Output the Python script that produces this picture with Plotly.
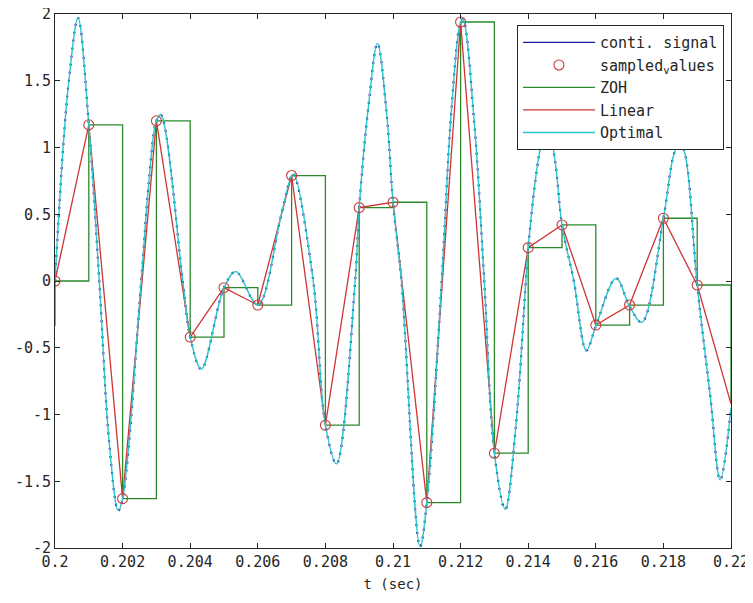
import plotly.graph_objects as go

# sampled values (sampling period 1 ms); first/last points lie just outside / on the axis edge
sample_t = [0.199, 0.200, 0.201, 0.202, 0.203, 0.204, 0.205, 0.206, 0.207, 0.208, 0.209,
            0.210, 0.211, 0.212, 0.213, 0.214, 0.215, 0.216, 0.217, 0.218, 0.219, 0.220]
sample_v = [-0.33, 0.00, 1.17, -1.63, 1.20, -0.42, -0.05, -0.18, 0.79, -1.08, 0.55,
            0.59, -1.66, 1.94, -1.29, 0.25, 0.42, -0.33, -0.18, 0.47, -0.03, -0.92]

# continuous signal (the optimal reconstruction coincides with it)
signal_t = [0.20000, 0.20024, 0.20041, 0.20068, 0.20100, 0.20131, 0.20160, 0.20187, 0.20200,
            0.20255, 0.20278, 0.20300, 0.20313, 0.20378, 0.20400, 0.20433, 0.20500, 0.20535,
            0.20600, 0.20668, 0.20700, 0.20706, 0.20764, 0.20800, 0.20833, 0.20888, 0.20900,
            0.20927, 0.20954, 0.20981, 0.21000, 0.21025, 0.21080, 0.21100, 0.21144, 0.21172,
            0.21200, 0.21207, 0.21240, 0.21270, 0.21300, 0.21332, 0.21363, 0.21393, 0.21400,
            0.21430, 0.21455, 0.21479, 0.21500, 0.21535, 0.21572, 0.21600, 0.21660, 0.21700,
            0.21736, 0.21800, 0.21830, 0.21848, 0.21865, 0.21900, 0.21939, 0.21968, 0.22000]
signal_v = [0.00, 1.00, 1.50, 1.97, 1.17, 0.00, -1.20, -1.72, -1.63,
            0.00, 0.75, 1.20, 1.245, 0.00, -0.42, -0.66, -0.05, 0.07,
            -0.18, 0.48, 0.79, 0.80, 0.00, -1.08, -1.37, 0.00, 0.55,
            1.30, 1.78, 1.26, 0.59, 0.00, -1.99, -1.66, 0.00, 1.25,
            1.94, 1.96, 1.20, 0.00, -1.29, -1.71, -1.10, 0.00, 0.25,
            0.91, 1.20, 0.91, 0.42, 0.00, -0.52, -0.34, 0.02, -0.19,
            -0.31, 0.47, 0.94, 1.05, 0.94, -0.03, -0.87, -1.49, -0.95]

x_ticks = [0.2, 0.202, 0.204, 0.206, 0.208, 0.21, 0.212, 0.214, 0.216, 0.218, 0.22]
x_ticktext = ["0.2", "0.202", "0.204", "0.206", "0.208", "0.21", "0.212", "0.214", "0.216", "0.218", "0.22"]
y_ticks = [-2, -1.5, -1, -0.5, 0, 0.5, 1, 1.5, 2]
y_ticktext = ["-2", "-1.5", "-1", "-0.5", "0", "0.5", "1", "1.5", "2"]

FONT = "DejaVu Sans Mono"
BLUE = "#1a1a9a"
marker_t = [t for t in sample_t if 0.2 <= t <= 0.2195]
marker_v = [v for t, v in zip(sample_t, sample_v) if 0.2 <= t <= 0.2195]

fig = go.Figure()
# continuous signal: drawn under the optimal curve, peeking out as small dark dots
fig.add_trace(go.Scatter(x=signal_t, y=signal_v, mode="lines", name="conti. signal",
                         line=dict(color=BLUE, width=2.2, dash="2px,6px",
                                   shape="spline", smoothing=1.0),
                         showlegend=False, legendrank=1))
# legend entry for the continuous signal (solid line sample, as in the reference)
fig.add_trace(go.Scatter(x=[None], y=[None], mode="lines", name="conti. signal",
                         line=dict(color=BLUE, width=1.3), legendrank=1))
fig.add_trace(go.Scatter(x=sample_t, y=sample_v, mode="lines", name="ZOH",
                         line=dict(color="#2a8a2a", width=1.3, shape="hv"), legendrank=3))
fig.add_trace(go.Scatter(x=sample_t, y=sample_v, mode="lines", name="Linear",
                         line=dict(color="#d03434", width=1.3), legendrank=4))
fig.add_trace(go.Scatter(x=signal_t, y=signal_v, mode="lines", name="Optimal",
                         line=dict(color="#2cc4cc", width=1.4, shape="spline", smoothing=1.0),
                         legendrank=5))
fig.add_trace(go.Scatter(x=marker_t, y=marker_v, mode="markers", name="sampled<sub>v</sub>alues",
                         marker=dict(symbol="circle-open", size=10, color="#c83c3c",
                                     line=dict(width=1.1, color="#c83c3c")),
                         legendrank=2))

axis_common = dict(showline=True, linecolor="#262626", linewidth=1, mirror="ticks",
                   ticks="inside", ticklen=5, tickcolor="#262626", showgrid=False,
                   zeroline=False, automargin=False, ticklabeloverflow="allow",
                   tickfont=dict(family=FONT, size=15, color="#262626"))

# the page body has an 8px margin, so the figure is sized/margined to compensate
fig.update_layout(
    width=745, height=595,
    margin=dict(l=47, r=22, t=6, b=55),
    paper_bgcolor="white", plot_bgcolor="white",
    font=dict(family=FONT, size=15, color="#262626"),
    xaxis=dict(range=[0.2, 0.22], tickvals=x_ticks, ticktext=x_ticktext,
               title=dict(text="t (sec)", font=dict(family=FONT, size=14), standoff=9),
               **axis_common),
    yaxis=dict(range=[-2, 2], tickvals=y_ticks, ticktext=y_ticktext, **axis_common),
    legend=dict(x=0.9896, y=0.979, xanchor="right", yanchor="top",
                bgcolor="white", bordercolor="#262626", borderwidth=1,
                font=dict(family=FONT, size=15, color="#262626"),
                itemwidth=72, tracegroupgap=0),
    showlegend=True,
)

fig.write_html("out.html")
